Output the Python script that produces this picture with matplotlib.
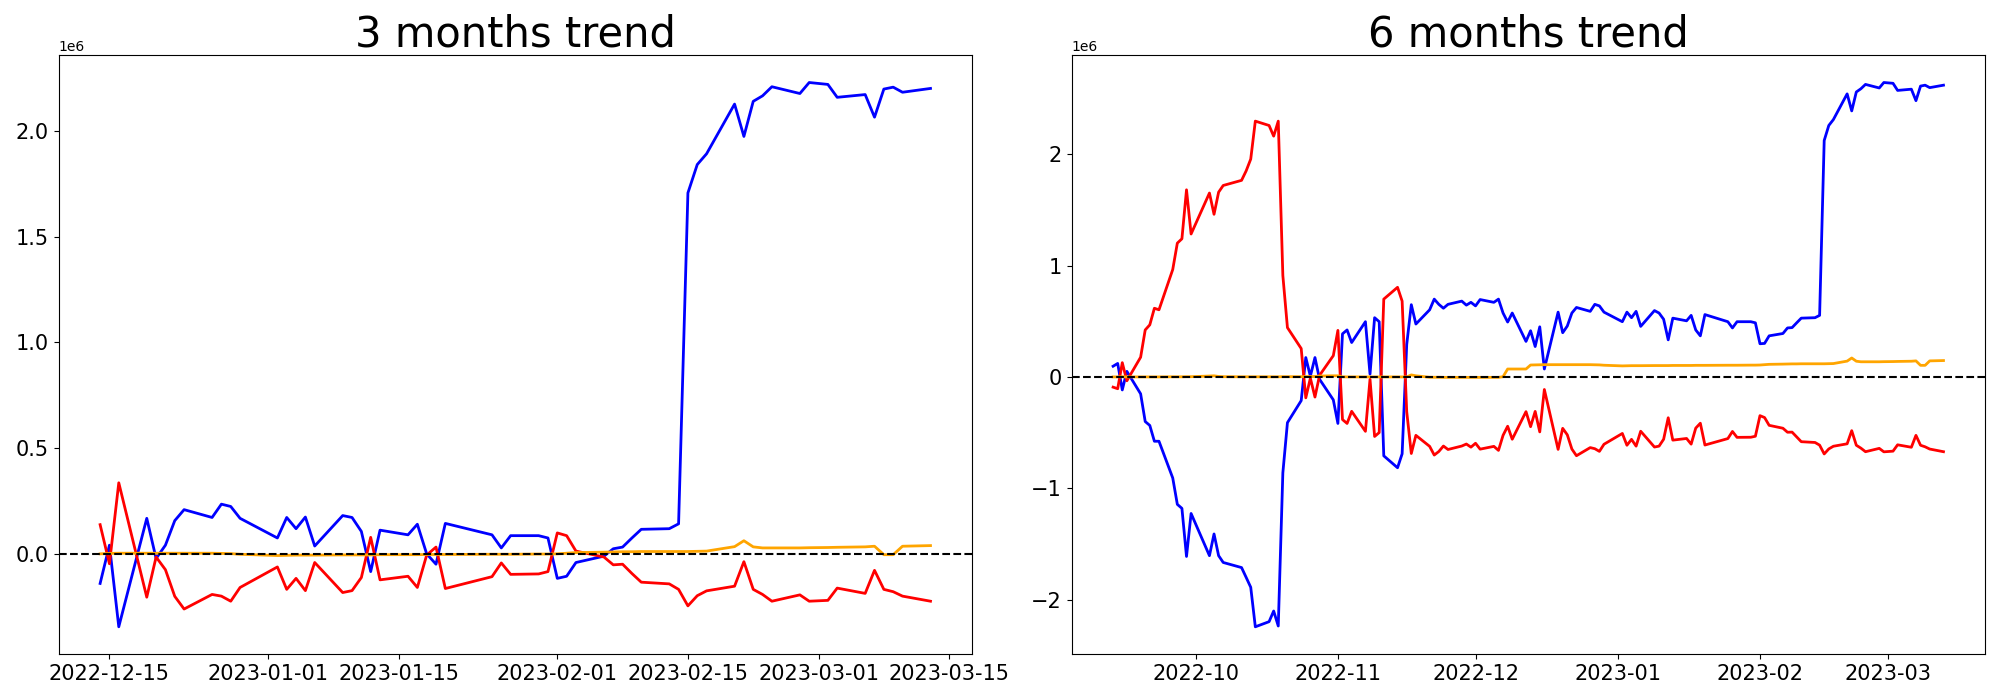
import matplotlib
matplotlib.use("Agg")
import matplotlib.pyplot as plt
import pandas as pd

# trading days with no data (market holidays, plus 2022-12-30 which is missing)
holidays = ["2022-10-03", "2022-10-10", "2022-12-30", "2023-01-23", "2023-01-24", "2023-03-01"]

dates_6m = pd.bdate_range("2022-09-13", "2023-03-13")
dates_6m = dates_6m[~dates_6m.isin(pd.to_datetime(holidays))]
dates_3m = dates_6m[dates_6m >= "2022-12-14"]

titles = ["3 months trend", "6 months trend"]

# 3 months, cumulative values (in units of 1e6)
blue_3m = [-0.140, 0.041, -0.345, 0.168, -0.022, 0.041, 0.157, 0.209, 0.172, 0.235, 0.224, 0.168,
           0.075, 0.172, 0.119, 0.174, 0.037, 0.181, 0.172, 0.106, -0.084, 0.112,
           0.090, 0.140, 0.000, -0.049, 0.144, 0.090, 0.028, 0.086, 0.086, 0.075,
           -0.116, -0.106, -0.041, -0.011, 0.024, 0.032, 0.075, 0.116, 0.119, 0.142,
           1.707, 1.841, 1.892, 2.127, 1.974, 2.140, 2.166, 2.209, 2.177, 2.229,
           2.220, 2.159, 2.172, 2.065, 2.198, 2.207, 2.183, 2.201]
red_3m = [0.138, -0.047, 0.336, -0.205, -0.015, -0.075, -0.201, -0.261, -0.192, -0.200, -0.224, -0.159,
          -0.062, -0.168, -0.116, -0.174, -0.041, -0.183, -0.174, -0.112, 0.078, -0.123,
          -0.106, -0.159, -0.006, 0.032, -0.164, -0.108, -0.043, -0.097, -0.095, -0.084,
          0.099, 0.086, 0.013, -0.015, -0.052, -0.049, -0.093, -0.134, -0.142, -0.168,
          -0.246, -0.198, -0.175, -0.153, -0.037, -0.168, -0.192, -0.224, -0.194, -0.224,
          -0.220, -0.162, -0.187, -0.078, -0.168, -0.179, -0.200, -0.224]
orange_3m = [0.0, 0.002, 0.003, 0.003, 0.003, 0.003, 0.003, 0.003, 0.003, 0.002, 0.001, -0.002,
             -0.008, -0.007, -0.006, -0.006, -0.006, -0.005, -0.005, -0.005, -0.005, -0.004,
             -0.004, -0.004, -0.003, -0.003, -0.003, -0.002, -0.002, -0.002, -0.001, -0.001,
             0.0, 0.003, 0.006, 0.008, 0.009, 0.010, 0.010, 0.011, 0.011, 0.011,
             0.011, 0.012, 0.013, 0.034, 0.062, 0.033, 0.028, 0.028, 0.028, 0.029,
             0.030, 0.031, 0.033, 0.036, -0.004, -0.004, 0.036, 0.039]

# 6 months, cumulative values (in units of 1e6)
blue_6m = [0.096, 0.121, -0.117, 0.050, -0.152, -0.401, -0.436, -0.578, -0.578, -0.908, -1.145, -1.181, -1.613, -1.227,
           -1.606, -1.411, -1.606, -1.667, -1.713, -1.801, -1.890, -2.245, -2.199, -2.103, -2.238, -0.862, -0.411,
           -0.213, 0.174, 0.007, 0.174, -0.021, -0.206,
           -0.418, 0.387, 0.422, 0.309, 0.496, 0.025, 0.532, 0.496, -0.709, -0.816, -0.691, 0.291, 0.649, 0.475,
           0.603, 0.699, 0.652, 0.617, 0.652, 0.681, 0.645, 0.670,
           0.638, 0.695, 0.670, 0.699, 0.574, 0.493, 0.574, 0.319, 0.415, 0.273, 0.450, 0.071, 0.582, 0.397,
           0.457, 0.574, 0.624, 0.589, 0.652, 0.638, 0.582,
           0.496, 0.582, 0.532, 0.589, 0.454, 0.596, 0.574, 0.518, 0.333, 0.528, 0.504, 0.553, 0.422, 0.369,
           0.560, 0.496, 0.440, 0.496, 0.496, 0.486,
           0.298, 0.301, 0.369, 0.390, 0.440, 0.443, 0.486, 0.528, 0.532, 0.553, 2.124, 2.259, 2.312, 2.543,
           2.390, 2.560, 2.589, 2.628, 2.596, 2.645,
           2.638, 2.574, 2.585, 2.482, 2.613, 2.621, 2.599, 2.621]
red_6m = [-0.092, -0.106, 0.128, -0.035, 0.177, 0.422, 0.468, 0.617, 0.603, 0.965, 1.202, 1.241, 1.681, 1.284,
          1.652, 1.461, 1.660, 1.720, 1.766, 1.851, 1.957, 2.298, 2.259, 2.163, 2.298, 0.911, 0.443,
          0.255, -0.188, -0.011, -0.181, 0.014, 0.191,
          0.418, -0.383, -0.418, -0.309, -0.489, -0.021, -0.535, -0.500, 0.699, 0.805, 0.681, -0.312, -0.688, -0.525,
          -0.624, -0.702, -0.670, -0.621, -0.652, -0.621, -0.603, -0.631,
          -0.596, -0.649, -0.624, -0.660, -0.525, -0.443, -0.560, -0.312, -0.447, -0.310, -0.494, -0.113, -0.651, -0.462,
          -0.520, -0.648, -0.708, -0.635, -0.645, -0.669, -0.605,
          -0.508, -0.614, -0.561, -0.622, -0.488, -0.630, -0.622, -0.560, -0.367, -0.568, -0.553, -0.604, -0.460, -0.416,
          -0.612, -0.554, -0.490, -0.543, -0.542, -0.533,
          -0.348, -0.365, -0.435, -0.461, -0.497, -0.496, -0.539, -0.582, -0.589, -0.613, -0.692, -0.647, -0.623, -0.601,
          -0.483, -0.614, -0.640, -0.672, -0.642, -0.673,
          -0.667, -0.610, -0.632, -0.525, -0.614, -0.628, -0.648, -0.672]
orange_6m = [0.0, 0.0, 0.002, 0.0, 0.0, 0.0, 0.0, 0.0, 0.0, 0.001, 0.001, 0.001, 0.002, 0.002,
             0.008, 0.010, 0.004, 0.002, 0.001, 0.001, 0.001, 0.001, 0.001, 0.001, 0.001, 0.002, 0.002,
             0.002, 0.003, 0.003, 0.004, 0.008, 0.010,
             0.010, 0.001, 0.0, 0.0, 0.0, 0.0, 0.0, 0.0, 0.0, 0.0, 0.0, 0.0, 0.018, 0.010,
             -0.003, -0.003, -0.003, -0.004, -0.004, -0.004, -0.004, -0.004,
             -0.004, -0.004, -0.004, -0.004, 0.002, 0.071, 0.071, 0.071, 0.107, 0.108, 0.109, 0.110, 0.110, 0.110,
             0.110, 0.110, 0.110, 0.110, 0.109, 0.108, 0.105,
             0.099, 0.100, 0.101, 0.101, 0.101, 0.102, 0.102, 0.102, 0.102, 0.103, 0.103, 0.103, 0.104, 0.104,
             0.104, 0.105, 0.105, 0.105, 0.106, 0.106,
             0.107, 0.110, 0.113, 0.115, 0.116, 0.117, 0.117, 0.118, 0.118, 0.118, 0.118, 0.119, 0.120, 0.142,
             0.170, 0.141, 0.136, 0.136, 0.136, 0.137,
             0.138, 0.139, 0.141, 0.144, 0.104, 0.104, 0.144, 0.147]

series = [
    (dates_3m, blue_3m, red_3m, orange_3m),
    (dates_6m, blue_6m, red_6m, orange_6m),
]

fig, axes = plt.subplots(1, 2, figsize=(20, 7), dpi=100)
fig.subplots_adjust(left=0.0293, right=0.9925, bottom=0.0657, top=0.921, wspace=0.109)

for ax, title, (d, b, r, o) in zip(axes, titles, series):
    ax.plot(d, [v * 1e6 for v in b], color="blue", linewidth=2)
    ax.plot(d, [v * 1e6 for v in r], color="red", linewidth=2)
    ax.plot(d, [v * 1e6 for v in o], color="orange", linewidth=2)
    ax.axhline(0, color="black", linestyle="--", linewidth=1.5)
    ax.set_title(title, fontsize=30)
    ax.tick_params(labelsize=15)

fig.savefig("out.png")
